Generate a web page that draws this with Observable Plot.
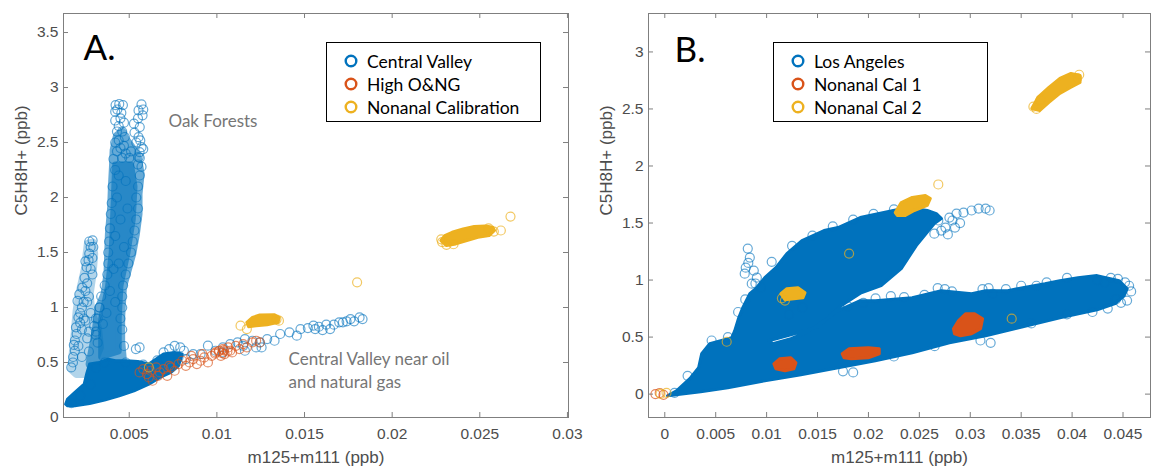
<!DOCTYPE html>
<html><head><meta charset="utf-8">
<script src="https://cdn.jsdelivr.net/npm/d3@7"></script>
<script src="https://cdn.jsdelivr.net/npm/@observablehq/plot@0.6"></script>
<style>
body{margin:0;background:#fff;}
#wrap{position:relative;width:1155px;height:468px;overflow:hidden;background:#fff;}
.panel{position:absolute;top:0;}
.panel svg{overflow:visible;}
.legend{position:absolute;border:1.3px solid #000;background:#fff;box-sizing:border-box;font-family:Lato,sans-serif;font-size:17.5px;color:#000;}
.row{position:absolute;left:0;height:20px;display:flex;align-items:center;white-space:nowrap;}
.row svg{margin-left:17px;margin-right:9px;}
</style></head>
<body><div id="wrap">
<div id="pb" class="panel" style="left:578px"></div>
<div id="pa" class="panel" style="left:0"></div>
<div id="la" class="legend" style="left:326px;top:42px;width:215px;height:80px"></div>
<div id="lb" class="legend" style="left:773px;top:42px;width:215px;height:80px"></div>
</div>
<script>
// ---------- colours ----------
const cBlue = "#0072BD", cOrange = "#D95319", cYellow = "#EDB120";

// ---------- ticks ----------
const xTicksA = [0.005, 0.01, 0.015, 0.02, 0.025, 0.03];
const xTickLabelsA = ["0.005", "0.01", "0.015", "0.02", "0.025", "0.03"];
const yTicksA = [0, 0.5, 1, 1.5, 2, 2.5, 3, 3.5];
const yTickLabelsA = ["0", "0.5", "1", "1.5", "2", "2.5", "3", "3.5"];
const xTicksB = [0, 0.005, 0.01, 0.015, 0.02, 0.025, 0.03, 0.035, 0.04, 0.045];
const xTickLabelsB = ["0", "0.005", "0.01", "0.015", "0.02", "0.025", "0.03", "0.035", "0.04", "0.045"];
const yTicksB = [0, 0.5, 1, 1.5, 2, 2.5, 3];
const yTickLabelsB = ["0", "0.5", "1", "1.5", "2", "2.5", "3"];

const legendA = ["Central Valley", "High O&NG", "Nonanal Calibration"];
const legendB = ["Los Angeles", "Nonanal Cal 1", "Nonanal Cal 2"];

// ---------- Panel A : Central Valley (blue) ----------
// outlines of dense point clouds  [m125+m111, C5H8H+]
const A_cvBlob = [[0.00137,0.121],[0.00148,0.167],[0.0019,0.228],[0.00243,0.303],[0.00257,0.395],[0.00274,0.486],[0.00327,0.501],[0.0038,0.531],[0.00422,0.516],[0.00485,0.516],[0.00549,0.51],[0.00612,0.486],[0.00654,0.531],[0.00696,0.577],[0.00759,0.592],[0.00802,0.577],[0.00781,0.47],[0.00738,0.41],[0.00675,0.364],[0.00612,0.303],[0.00527,0.243],[0.00443,0.197],[0.00359,0.158],[0.00274,0.127],[0.0019,0.106],[0.00148,0.106]];
const A_cvTower = [[0.00274,0.486],[0.00306,0.759],[0.00327,1.002],[0.00359,1.123],[0.00376,1.305],[0.0038,1.487],[0.00384,1.669],[0.00397,1.912],[0.00401,2.094],[0.00407,2.276],[0.00411,2.43],[0.0043,2.56],[0.0046,2.6],[0.0048,2.53],[0.00517,2.45],[0.00549,2.367],[0.00565,2.215],[0.00553,2.033],[0.00553,1.851],[0.00538,1.669],[0.00517,1.487],[0.00496,1.366],[0.00464,1.184],[0.00454,0.91],[0.00454,0.698],[0.00464,0.516]];
const A_cvTowerCore = [[0.0042,2.3],[0.0051,2.3],[0.0053,2.1],[0.0052,1.8],[0.0049,1.5],[0.0045,1.2],[0.0044,0.9],[0.0044,0.6],[0.0034,0.55],[0.0034,0.9],[0.0038,1.2],[0.004,1.5],[0.0041,1.9]];
const A_cvBranch = [[0.00169,0.44],[0.00179,0.607],[0.0019,0.789],[0.002,0.971],[0.00215,1.123],[0.00232,1.244],[0.00249,1.366],[0.00257,1.487],[0.00264,1.58],[0.00291,1.59],[0.003,1.487],[0.00291,1.305],[0.00274,1.123],[0.00285,0.941],[0.00321,0.819],[0.00333,0.637],[0.00295,0.486],[0.00253,0.395],[0.002,0.395]];
// individual circles
const A_cvBranchPts = [[0.00169,0.455],[0.00179,0.5],[0.0019,0.607],[0.00184,0.66],[0.002,0.759],[0.00196,0.82],[0.0021,0.91],[0.00205,1.06],[0.00215,1.12],[0.00232,1.18],[0.00245,1.27],[0.00257,1.366],[0.00268,1.43],[0.00272,1.49],[0.0028,1.55],[0.00272,1.6],[0.00291,1.61],[0.00295,1.55],[0.0029,1.3],[0.0027,1.1],[0.0024,1.05],[0.0022,0.95],[0.0025,0.88],[0.003,0.83],[0.0031,0.75],[0.0032,0.68],[0.0026,0.72],[0.0023,0.55],[0.0027,0.6],[0.0018,0.55],[0.0021,0.65],[0.0023,0.8],[0.0027,0.78],[0.0024,0.9],[0.0028,0.95],[0.0023,1.0],[0.0019,0.7],[0.0025,1.15],[0.0026,1.22],[0.0028,1.35],[0.0025,1.42],[0.0029,1.45],[0.0031,0.9],[0.0033,1.0],[0.0035,0.85],[0.0022,0.86],[0.0026,1.05]];
const A_cvTowerPts = [[0.00422,2.84],[0.00443,2.85],[0.00464,2.84],[0.00432,2.8],[0.00455,2.77],[0.0042,2.7],[0.0047,2.68],[0.0043,2.6],[0.00475,2.55],[0.0042,2.5],[0.0045,2.45],[0.0041,2.35],[0.0042,2.25],[0.00405,2.1],[0.004,1.95],[0.00395,1.85],[0.0039,1.72],[0.00385,1.6],[0.0038,1.5],[0.0038,1.4],[0.00375,1.3],[0.0036,1.2],[0.0034,1.1],[0.0033,1.0],[0.0032,0.9],[0.0031,0.78],[0.0055,2.3],[0.0056,2.2],[0.0055,2.1],[0.0054,2.0],[0.0055,1.9],[0.0054,1.8],[0.0053,1.7],[0.0052,1.6],[0.0051,1.5],[0.00495,1.4],[0.0048,1.3],[0.00465,1.2],[0.0046,1.1],[0.0046,1.0],[0.0045,0.9],[0.0046,0.8],[0.0047,0.65],
 [0.0042,2.78],[0.0045,2.72],[0.0044,2.65],[0.0046,2.6],[0.0044,2.52],[0.0047,2.47],[0.0043,2.42],[0.0048,2.4],[0.0051,2.42],[0.005,2.36],[0.0046,2.36],[0.0044,2.2],[0.0048,2.15],[0.0043,2.0],[0.0049,1.9],[0.0045,1.8],[0.0042,1.65],[0.0047,1.55],[0.0041,1.35],[0.0044,1.4],[0.0039,1.15],[0.0042,1.05],[0.0037,0.95]];
const A_cvSpikePts = [[0.0057,2.847],[0.00553,2.792],[0.00576,2.747],[0.00527,2.671],[0.0053,2.59],[0.00553,2.549],[0.00563,2.519],[0.0057,2.458],[0.00559,2.413],[0.00553,2.367],[0.0058,2.8],[0.0055,2.72],[0.0056,2.64],[0.0054,2.5],[0.0058,2.44],[0.0057,2.28],[0.0056,2.36]];
const A_cvBumpPts = [[0.00538,0.622],[0.00559,0.637],[0.00759,0.652],[0.00791,0.637],[0.00812,0.607],[0.00728,0.622],[0.00696,0.592],[0.00781,0.546],[0.00823,0.531],[0.00907,0.577],[0.01034,0.592],[0.0115,0.652],[0.01224,0.637],[0.0116,0.607],[0.0017,0.13],[0.0022,0.2],[0.0028,0.3],[0.0031,0.45],[0.0036,0.5],[0.0048,0.5],[0.0058,0.48],[0.0066,0.52]];
const A_cvTrendPts = [[0.00865,0.577],[0.00949,0.653],[0.00992,0.607],[0.01034,0.637],[0.01076,0.668],[0.01118,0.683],[0.0116,0.713],[0.01203,0.698],[0.01245,0.683],[0.01255,0.637],[0.01287,0.713],[0.01329,0.698],[0.01361,0.759],[0.01414,0.774],[0.01456,0.744],[0.01477,0.804],[0.01519,0.813],[0.01551,0.835],[0.01561,0.804],[0.01582,0.825],[0.01603,0.795],[0.01624,0.844],[0.01646,0.804],[0.01667,0.844],[0.01698,0.865],[0.01719,0.865],[0.0174,0.874],[0.01762,0.895],[0.01783,0.874],[0.01814,0.91],[0.01831,0.895]];
// ---------- Panel A : High O&NG (orange) ----------
const A_ongPts = [[0.00559,0.41],[0.0058,0.44],[0.00601,0.395],[0.00622,0.425],[0.00633,0.334],[0.00654,0.455],[0.00675,0.41],[0.00696,0.44],[0.00717,0.379],[0.00738,0.455],[0.00759,0.425],[0.00781,0.486],[0.00802,0.516],[0.00823,0.47],[0.00844,0.501],[0.00865,0.531],[0.00886,0.486],[0.00907,0.516],[0.00928,0.546],[0.00949,0.501],[0.0097,0.561],[0.00992,0.592],[0.01013,0.607],[0.01034,0.622],[0.01044,0.577],[0.01065,0.637],[0.01087,0.592],[0.01108,0.652],[0.01129,0.622],[0.0115,0.668],[0.01171,0.637],[0.01203,0.683],[0.01224,0.698],[0.01245,0.683],[0.00612,0.364],[0.00664,0.379],[0.00728,0.47],[0.00854,0.561],[0.00918,0.577],[0.01023,0.561],[0.01076,0.607],[0.0101,0.6],[0.0104,0.61],[0.0106,0.6],[0.0099,0.58],[0.0103,0.585]];
// ---------- Panel A : Nonanal Calibration (yellow) ----------
const A_calSmall = [[0.01171,0.865],[0.01203,0.91],[0.01245,0.932],[0.01329,0.935],[0.01354,0.91],[0.0135,0.865],[0.01287,0.844],[0.01224,0.835],[0.01181,0.825]];
const A_calBig = [[0.02278,1.609],[0.023,1.654],[0.02342,1.684],[0.02405,1.715],[0.02468,1.736],[0.02532,1.742],[0.02574,1.73],[0.02584,1.7],[0.02553,1.654],[0.02489,1.639],[0.02426,1.609],[0.02363,1.578],[0.0231,1.563]];
const A_calPts = [[0.01135,0.835],[0.01171,0.804],[0.01354,0.88],[0.0134,0.89],[0.02285,1.595],[0.0231,1.57],[0.0235,1.575],[0.0258,1.69],[0.0262,1.7],[0.0255,1.72],[0.0228,1.62],[0.018,1.229],[0.02675,1.827],[0.00612,0.455]];

// ---------- Panel B : Los Angeles (blue) ----------
const B_laCloud = [[0.00027,-0.015],[0.00352,0.02],[0.00618,0.055],[0.00982,0.117],[0.01337,0.17],[0.01702,0.231],[0.02067,0.293],[0.0243,0.363],[0.02795,0.45],[0.03151,0.512],[0.03516,0.591],[0.0388,0.67],[0.04245,0.74],[0.04423,0.793],[0.04511,0.863],[0.04541,0.924],[0.04462,0.995],[0.04245,1.039],[0.04058,1.021],[0.0388,0.995],[0.03733,0.968],[0.03516,0.933],[0.03368,0.907],[0.03151,0.907],[0.03013,0.881],[0.02716,0.907],[0.0243,0.845],[0.02067,0.819],[0.01919,0.819],[0.01702,0.731],[0.01534,0.626],[0.01386,0.538],[0.01238,0.486],[0.01061,0.442],[0.01022,0.468],[0.01238,0.521],[0.01505,0.591],[0.01732,0.775],[0.01929,0.889],[0.02125,0.951],[0.02322,1.1],[0.0247,1.302],[0.02647,1.495],[0.02716,1.539],[0.02667,1.583],[0.02578,1.61],[0.02391,1.636],[0.02244,1.61],[0.01919,1.548],[0.01702,1.46],[0.01564,1.434],[0.01347,1.346],[0.01199,1.232],[0.01091,1.109],[0.00982,1.021],[0.00904,0.933],[0.00835,0.881],[0.00766,0.758],[0.00726,0.67],[0.00687,0.556],[0.00657,0.494],[0.00549,0.468],[0.00441,0.442],[0.00362,0.354],[0.00332,0.231],[0.00253,0.143],[0.00115,0.029]];
const B_laPts = [[0.02686,1.522],[0.02795,1.548],[0.02865,1.583],[0.02934,1.592],[0.03013,1.61],[0.03082,1.627],[0.03151,1.627],[0.0319,1.61],[0.02756,1.46],[0.02647,1.407],[0.02716,1.434],[0.02825,1.522],[0.029,1.5],[0.0285,1.46],[0.0278,1.4],
 [0.00815,1.276],[0.00835,1.197],[0.00795,1.109],[0.00874,1.083],[0.00904,1.021],[0.00854,0.968],[0.00943,0.933],[0.00785,1.056],[0.0082,1.15],[0.0089,0.97],
 [0.0445,1.01],[0.0452,0.98],[0.0454,0.82],[0.0448,0.8],[0.0443,0.83],[0.0438,1.02],[0.0432,0.98],[0.0425,1.0],[0.0435,0.75],[0.042,0.72],[0.0458,0.9],[0.0456,0.95],
 [0.0268,0.93],[0.0275,0.92],[0.0312,0.92],[0.0318,0.93],[0.0322,0.88],[0.0365,0.95],[0.0375,0.98],[0.0395,1.02],[0.018,0.77],[0.0195,0.8],[0.0122,0.7],[0.0135,0.76],
 [0.0175,0.2],[0.0185,0.19],[0.031,0.47],[0.032,0.45],[0.00096,0.011],[0.00224,0.16],
 [0.0046,0.47],[0.0062,0.5],[0.0072,0.72],[0.0079,0.83],[0.0105,1.16],[0.0125,1.3],[0.0145,1.39],[0.0165,1.47],[0.0185,1.53],[0.0205,1.58],[0.0225,1.62],
 [0.0207,0.84],[0.0222,0.86],[0.0235,0.85],[0.0255,0.87],[0.0282,0.9],[0.0335,0.92],[0.035,0.95],[0.0395,0.7],[0.036,0.62],[0.0265,0.42],[0.0225,0.33]];
// ---------- Panel B : Nonanal Cal 1 (orange) ----------
const B_cal1Blob1 = [[0.01071,0.266],[0.0113,0.31],[0.01238,0.319],[0.01288,0.275],[0.01268,0.222],[0.0118,0.205],[0.01091,0.222]];
const B_cal1Blob2 = [[0.01742,0.354],[0.01811,0.398],[0.01998,0.407],[0.02106,0.398],[0.02106,0.354],[0.01998,0.319],[0.0183,0.31],[0.01761,0.319]];
const B_cal1Blob3 = [[0.02835,0.573],[0.02885,0.644],[0.02954,0.705],[0.03042,0.705],[0.03121,0.661],[0.03101,0.573],[0.03013,0.529],[0.02904,0.512],[0.02845,0.529]];
const B_cal1Pts = [[-0.00092,0.0],[-0.00013,-0.006],[-0.0005,0.01]];
// ---------- Panel B : Nonanal Cal 2 (yellow) ----------
const B_cal2Top = [[0.03604,2.504],[0.03664,2.601],[0.03772,2.69],[0.0388,2.768],[0.03989,2.812],[0.04078,2.794],[0.04078,2.733],[0.03989,2.69],[0.0388,2.637],[0.03772,2.557],[0.03684,2.487]];
const B_cal2Mid = [[0.02263,1.592],[0.02322,1.68],[0.0243,1.724],[0.02559,1.741],[0.02608,1.715],[0.02578,1.654],[0.0245,1.61],[0.02362,1.566],[0.02283,1.566]];
const B_cal2Low = [[0.0114,0.881],[0.01199,0.924],[0.01308,0.933],[0.01377,0.889],[0.01357,0.845],[0.01268,0.837],[0.0118,0.828]];
const B_cal2Pts = [[0.0362,2.52],[0.0365,2.5],[0.0405,2.77],[0.0407,2.8],[0.0369,2.58],[0.02686,1.838],[0.0115,0.84],[0.0118,0.82],[0.00608,0.459],[-0.00042,0.003],[0.00017,0.011],[0.0181,1.232],[0.03407,0.661]];

// ---------- helpers ----------
const rows = (name, arr) => arr.map(([x, y]) => ({x, y, shape: name}));
function polys(list, color, opts = {}) {
  return Plot.line(list.flatMap(([n, a]) => rows(n, a)), {
    x: "x", y: "y", z: "shape", curve: "linear-closed",
    fill: color, stroke: color, strokeWidth: 3, strokeLinejoin: "round", ...opts
  });
}
function dots(arr, color, opts = {}) {
  return Plot.dot(rows("p", arr), {x: "x", y: "y", r: 4.5, fill: "none", stroke: color, strokeWidth: 1.2, strokeOpacity: 0.6, ...opts});
}
const grey = "#7f7f7f", txt = "#4d4d4d";
function frameParts(W, H, mL, mR, mT, mB, xt, xl, yt, yl, xTitle, yTitle) {
  const fw = W - mL - mR, fh = H - mT - mB;
  return [
    Plot.frame({stroke: grey, strokeWidth: 1}),
    Plot.tickX(xt, {x: d => d, insetTop: fh - 5, stroke: grey}),
    Plot.tickX(xt, {x: d => d, insetBottom: fh - 5, stroke: grey}),
    Plot.tickY(yt, {y: d => d, insetRight: fw - 5, stroke: grey}),
    Plot.tickY(yt, {y: d => d, insetLeft: fw - 5, stroke: grey}),
    Plot.axisX(xt, {tickSize: 0, tickPadding: 10, tickFormat: d => xl[xt.indexOf(d)], fontSize: 15.5, fill: txt, label: null}),
    Plot.axisY(yt, {tickSize: 0, tickPadding: 5, tickFormat: d => yl[yt.indexOf(d)], fontSize: 15.5, fill: txt, label: null}),
    Plot.text([xTitle], {frameAnchor: "bottom", dy: 40, fontSize: 17, fill: txt, lineAnchor: "middle"}),
    Plot.text([yTitle], {frameAnchor: "left", dx: -42, rotate: -90, fontSize: 17, fill: txt, lineAnchor: "middle"})
  ];
}

// ---------- Panel A ----------
const WA = 578, HA = 468;
const plotA = Plot.plot({
  width: WA, height: HA, marginLeft: 63, marginRight: 10, marginTop: 13, marginBottom: 51,
  x: {domain: [0.00125, 0.03006], axis: null},
  y: {domain: [0, 3.673], axis: null},
  style: {fontFamily: "'Liberation Sans', Arial, sans-serif", background: "transparent", overflow: "visible"},
  marks: [
    polys([["branch", A_cvBranch]], cBlue, {opacity: 0.3, strokeWidth: 8}),
    polys([["tower", A_cvTower]], cBlue, {opacity: 0.6, strokeWidth: 8}),
    polys([["core", A_cvTowerCore]], cBlue, {opacity: 0.6, strokeWidth: 6}),
    polys([["blob", A_cvBlob]], cBlue),
    dots(A_cvBranchPts, cBlue),
    dots(A_cvTowerPts, cBlue),
    dots(A_cvSpikePts, cBlue),
    dots(A_cvBumpPts, cBlue),
    dots(A_cvTrendPts, cBlue),
    dots(A_ongPts, cOrange, {strokeOpacity: 0.65}),
    polys([["s", A_calSmall], ["b", A_calBig]], cYellow),
    dots(A_calPts, cYellow, {strokeOpacity: 0.7}),
    ...frameParts(WA, HA, 63, 10, 13, 51, xTicksA, xTickLabelsA, yTicksA, yTickLabelsA, "m125+m111 (ppb)", "C5H8H+ (ppb)"),
    Plot.text(["A."], {frameAnchor: "top-left", dx: 20, dy: 22, lineAnchor: "top", textAnchor: "start", fontSize: 35, fontFamily: "Lato, sans-serif", fill: "#000"}),
    Plot.text(["Oak Forests"], {frameAnchor: "top-left", dx: 105, dy: 101, lineAnchor: "top", textAnchor: "start", fontSize: 17, fontFamily: "Lato, sans-serif", fill: "#767676"}),
    Plot.text(["Central Valley near oil\nand natural gas"], {frameAnchor: "top-left", dx: 225, dy: 335, lineAnchor: "top", textAnchor: "start", lineHeight: 1.35, fontSize: 17, fontFamily: "Lato, sans-serif", fill: "#767676"})
  ]
});
document.getElementById("pa").appendChild(plotA);

// ---------- Panel B ----------
const WB = 577, HB = 468;
const plotB = Plot.plot({
  width: WB, height: HB, marginLeft: 70, marginRight: 5, marginTop: 13, marginBottom: 51,
  x: {domain: [-0.0016, 0.0477], axis: null},
  y: {domain: [-0.205, 3.337], axis: null},
  style: {fontFamily: "'Liberation Sans', Arial, sans-serif", background: "transparent"},
  marks: [
    polys([["la", B_laCloud]], cBlue),
    dots(B_laPts, cBlue),
    polys([["o1", B_cal1Blob1], ["o2", B_cal1Blob2], ["o3", B_cal1Blob3]], cOrange),
    dots(B_cal1Pts, cOrange, {strokeOpacity: 0.7}),
    polys([["t", B_cal2Top], ["m", B_cal2Mid], ["l", B_cal2Low]], cYellow),
    dots(B_cal2Pts, cYellow, {strokeOpacity: 0.7}),
    ...frameParts(WB, HB, 70, 5, 13, 51, xTicksB, xTickLabelsB, yTicksB, yTickLabelsB, "m125+m111 (ppb)", "C5H8H+ (ppb)"),
    Plot.text(["B."], {frameAnchor: "top-left", dx: 26, dy: 24, lineAnchor: "top", textAnchor: "start", fontSize: 35, fontFamily: "Lato, sans-serif", fill: "#000"})
  ]
});
document.getElementById("pb").appendChild(plotB);

// ---------- legends ----------
function legend(id, labels) {
  const colors = [cBlue, cOrange, cYellow];
  const box = document.getElementById(id);
  labels.forEach((lab, i) => {
    const r = document.createElement("div");
    r.className = "row";
    r.style.top = (8 + i * 23) + "px";
    r.innerHTML = `<svg width="14" height="14"><circle cx="7" cy="7" r="5.3" fill="none" stroke="${colors[i]}" stroke-width="2.4"/></svg><span>${lab.replace("&","&amp;")}</span>`;
    box.appendChild(r);
  });
}
legend("la", legendA);
legend("lb", legendB);
</script>
</body></html>
